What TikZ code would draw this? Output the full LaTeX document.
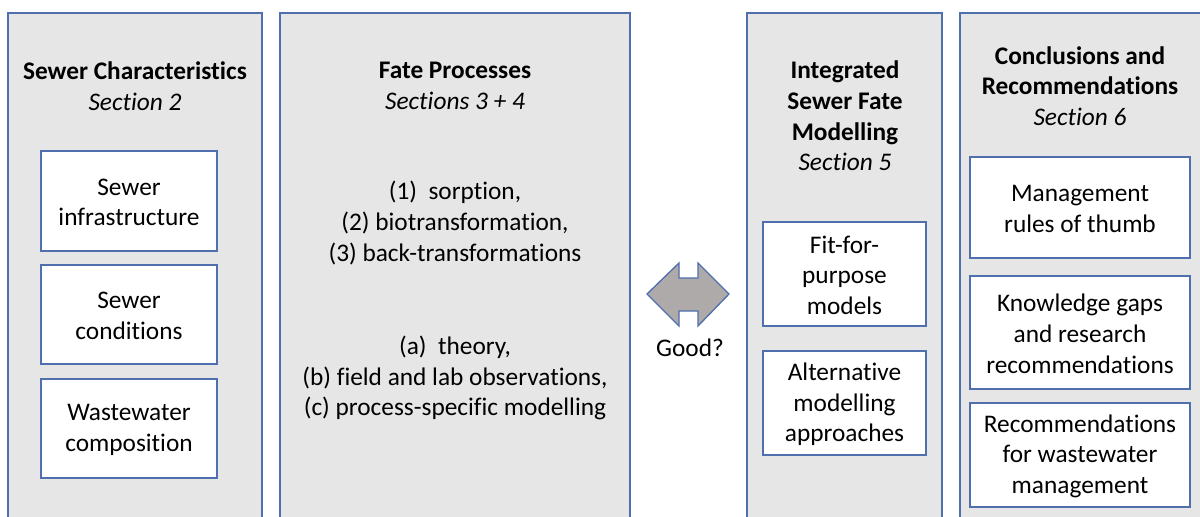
\documentclass[tikz,border=0pt]{standalone}
\usepackage{fontspec}
\setmainfont{Carlito}[Ligatures=NoCommon]
\usetikzlibrary{fit}
\definecolor{bordc}{HTML}{4F6FAE}
\definecolor{panelc}{HTML}{E7E6E6}
\definecolor{arrowc}{HTML}{AEAAAA}
\begin{document}
\begin{tikzpicture}[x=0.75pt,y=-0.75pt,
  panel/.style={draw=bordc, line width=1.5pt, fill=panelc, inner sep=0pt},
  item/.style={draw=bordc, line width=1pt, fill=white, inner sep=0pt},
  txt/.style={align=center, inner sep=0pt, font=\fontsize{19}{23}\selectfont},
  dblarrow/.style={draw=bordc, line width=1pt, fill=arrowc, line join=miter}
  ]
\useasboundingbox (0,0) rectangle (1200,517);
% panels
\node[panel, fit={(8,13) (262,545)}] (p1) {};
\node[panel, fit={(280,13) (630,545)}] (p2) {};
\node[panel, fit={(747,13) (942,545)}] (p3) {};
\node[panel, fit={(960,13) (1205,545)}] (p4) {};
% titles
\node[txt] (t1) at (135,86) {\textbf{Sewer Characteristics}\\\textit{Section 2}};
\node[txt] (t2) at (455,86) {\textbf{Fate Processes}\\\textit{Sections 3 + 4}};
\node[txt] (t3) at (845,116) {\textbf{Integrated}\\\textbf{Sewer Fate}\\\textbf{Modelling}\\\textit{Section 5}};
\node[txt] (t4) at (1080,86) {\textbf{Conclusions and}\\\textbf{Recommendations}\\\textit{Section 6}};
% panel 1 items
\node[item, fit={(41,151) (217,251)}] (b11) {};
\node[item, fit={(41,265) (217,364)}] (b12) {};
\node[item, fit={(41,379) (217,478)}] (b13) {};
\node[txt] (l11) at ([yshift=-1pt]b11.center) {Sewer\\infrastructure};
\node[txt] (l12) at ([yshift=-1pt]b12.center) {Sewer\\conditions};
\node[txt] (l13) at ([yshift=-1pt]b13.center) {Wastewater\\composition};
% panel 2 texts
\node[txt] (pr) at (455,223) {(1)\ \ sorption,\\(2) biotransformation,\\(3) back-transformations};
\node[txt] (ab) at (455,378) {(a)\ \ theory,\\(b) field and lab observations,\\(c) process-specific modelling};
% panel 3 items
\node[item, fit={(763,222) (926,326)}] (b31) {};
\node[item, fit={(763,351) (926,455)}] (b32) {};
\node[txt] (l31) at ([yshift=-1pt]b31.center) {Fit-for-\\purpose\\models};
\node[txt] (l32) at ([yshift=-1pt]b32.center) {Alternative\\modelling\\approaches};
% panel 4 items
\node[item, fit={(970,157) (1190,258)}] (b41) {};
\node[item, fit={(970,276) (1190,389)}] (b42) {};
\node[item, fit={(970,403) (1190,507)}] (b43) {};
\node[txt] (l41) at ([yshift=-1pt]b41.center) {Management\\rules of thumb};
\node[txt] (l42) at ([yshift=-1pt]b42.center) {Knowledge gaps\\and research\\recommendations};
\node[txt] (l43) at ([yshift=-1pt]b43.center) {Recommendations\\for wastewater\\management};
% double arrow
\draw[dblarrow] (647,294) -- (679,263) -- (679,278) -- (698,278) -- (698,263) -- (729,294)
  -- (698,326) -- (698,311) -- (679,311) -- (679,326) -- cycle;
\node[txt] (good) at (690,348) {Good?};
\end{tikzpicture}
\end{document}
